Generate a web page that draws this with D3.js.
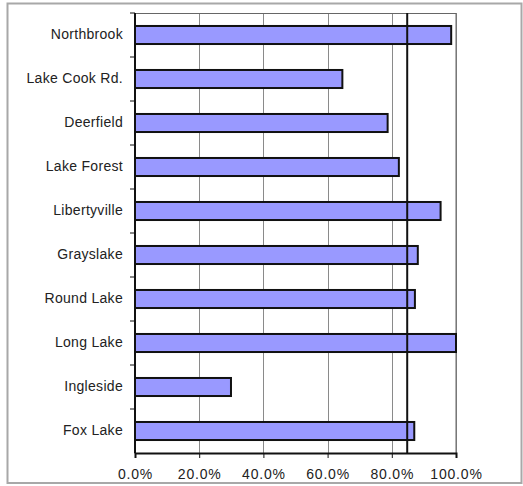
<!DOCTYPE html>
<html>
<head>
<meta charset="utf-8">
<script src="https://cdn.jsdelivr.net/npm/d3@7"></script>
<style>
    body { margin: 0; background: #fff; }
    text { font-family: "Liberation Sans", Arial, sans-serif; fill: #222; }
</style>
</head>
<body>
<div class="visHolder"></div>
<script>
// chart values
const stations = ["Northbrook", "Lake Cook Rd.", "Deerfield", "Lake Forest", "Libertyville",
    "Grayslake", "Round Lake", "Long Lake", "Ingleside", "Fox Lake"];
const shares = [98.5, 64.6, 78.7, 82.2, 95.2, 88.1, 87.2, 100, 29.9, 87.0];
const xTicks = [0, 20, 40, 60, 80, 100];
const targetLine = 84.8;

const fullWidth = 523;
const fullHeight = 486;
const plotLeft = 135, plotRight = 456, plotTop = 13, plotBottom = 453;

const svg = d3.select(".visHolder")
    .append("svg")
    .attr("width", fullWidth)
    .attr("height", fullHeight);

// outer frame
svg.append("rect")
    .attr("x", 7.5).attr("y", 3.5)
    .attr("width", 514).attr("height", 479.5)
    .attr("fill", "none")
    .attr("stroke", "#a8a8a8")
    .attr("stroke-width", 2);

const xScale = d3.scaleLinear()
    .domain([0, 100])
    .range([plotLeft, plotRight]);
const yScale = d3.scaleBand()
    .domain(stations)
    .range([plotTop, plotBottom])
    .paddingInner(0.59)
    .paddingOuter(0.295);

// grid lines
svg.selectAll(".grid")
    .data(xTicks.slice(1))
    .enter()
    .append("line")
    .attr("class", "grid")
    .attr("x1", d => Math.round(xScale(d)) + 0.5)
    .attr("x2", d => Math.round(xScale(d)) + 0.5)
    .attr("y1", plotTop)
    .attr("y2", plotBottom)
    .attr("stroke", "#8a8a8a")
    .attr("stroke-width", 1);

svg.append("rect")
    .attr("x", plotLeft).attr("y", plotTop + 0.5)
    .attr("width", plotRight - plotLeft).attr("height", plotBottom - plotTop)
    .attr("fill", "none")
    .attr("stroke", "#666")
    .attr("stroke-width", 1);

svg.selectAll(".bar")
    .data(shares)
    .enter()
    .append("rect")
    .attr("class", "bar")
    .attr("x", xScale(0))
    .attr("y", (d, i) => yScale(stations[i]))
    .attr("width", d => xScale(d) - xScale(0))
    .attr("height", yScale.bandwidth())
    .attr("fill", "#9999ff")
    .attr("stroke", "#111")
    .attr("stroke-width", 2);

// target line
svg.append("line")
    .attr("x1", xScale(targetLine))
    .attr("x2", xScale(targetLine))
    .attr("y1", plotTop)
    .attr("y2", plotBottom)
    .attr("stroke", "#111")
    .attr("stroke-width", 2);

// y axis
const step = yScale.step();
const yAxis = svg.append("g")
    .attr("id", "y-axis");
yAxis.append("line")
    .attr("x1", plotLeft).attr("x2", plotLeft)
    .attr("y1", plotTop).attr("y2", plotBottom)
    .attr("stroke", "#111").attr("stroke-width", 2);
yAxis.selectAll(".ytick")
    .data(stations)
    .enter()
    .append("line")
    .attr("class", "ytick")
    .attr("x1", plotLeft - 5).attr("x2", plotLeft)
    .attr("y1", d => yScale(d) - yScale.paddingInner() * step / 2)
    .attr("y2", d => yScale(d) - yScale.paddingInner() * step / 2)
    .attr("stroke", "#111");
yAxis.selectAll(".ylabel")
    .data(stations)
    .enter()
    .append("text")
    .attr("class", "ylabel")
    .attr("x", 123)
    .attr("y", d => yScale(d) + yScale.bandwidth() / 2 - 1)
    .attr("dy", "0.36em")
    .attr("text-anchor", "end")
    .style("font-size", "14px")
    .style("letter-spacing", "0.3px")
    .text(d => d);

// x axis
const xAxis = d3.axisBottom(xScale)
    .tickValues(xTicks)
    .tickSize(5)
    .tickPadding(11)
    .tickFormat(d => d.toFixed(1) + "%");
svg.append("g")
    .attr("id", "x-axis")
    .attr("transform", "translate(0," + plotBottom + ")")
    .call(xAxis)
    .call(g => g.select(".domain").attr("stroke", "#111").attr("stroke-width", 2))
    .call(g => g.selectAll("line").attr("stroke", "#111"))
    .call(g => g.selectAll("text")
        .style("font-size", "14px")
        .style("letter-spacing", "0.8px")
        .style("font-family", "'Liberation Sans', Arial, sans-serif")
        .attr("fill", "#222"));
</script>
</body>
</html>
